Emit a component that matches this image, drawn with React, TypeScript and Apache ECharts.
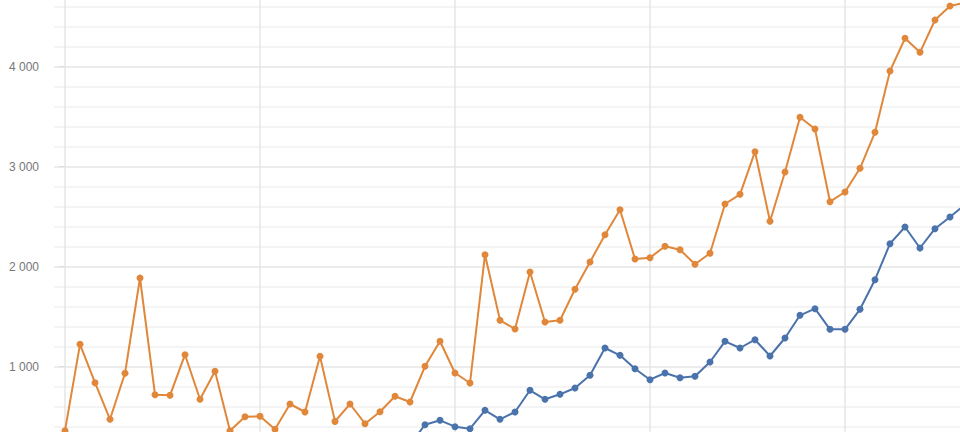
import React, { useEffect, useRef } from "react";
import * as echarts from "echarts";

// Orange series: one value per period, index 0 .. 60
const orangeValues = [
  360, 1224, 840, 474, 934, 1887, 720, 714, 1120, 674, 954, 360, 500, 504, 374, 627, 547, 1105,
  453, 627, 430, 550, 704, 647, 1004, 1254, 937, 837, 2120, 1464, 1377, 1947, 1447, 1464, 1774,
  2047, 2320, 2570, 2077, 2090, 2204, 2170, 2024, 2134, 2627, 2724, 3150, 2455, 2947, 3494, 3377,
  2650, 2747, 2984, 3344, 3957, 4284, 4144, 4467, 4607, 4640,
];

// Blue series starts later
const blueStartIndex = 23;
const blueValues = [
  220, 420, 464, 400, 380, 564, 474, 547, 764, 674, 724, 787, 914, 1187, 1114, 980, 870, 937,
  890, 904, 1047, 1254, 1187, 1270, 1107, 1287, 1514, 1580, 1374, 1374, 1574, 1870, 2230, 2397,
  2187, 2380, 2497, 2620,
];

// Vertical reference grid lines (period indices)
const periodBreaks = [0, 13, 26, 39, 52];

// Y tick labels shown
const yTickLabels = [1000, 2000, 3000, 4000];

const ORANGE = "#E0873A";
const BLUE = "#4A72AB";

function fmt(v: number): string {
  return String(v).replace(/\B(?=(\d{3})+(?!\d))/g, " ");
}

export default function App() {
  const ref = useRef<HTMLDivElement>(null);

  useEffect(() => {
    if (!ref.current) return;
    const chart = echarts.init(ref.current, undefined, { renderer: "svg" });
    const xMin = -11 / 15;
    const xMax = xMin + 946 / 15;
    chart.setOption({
      animation: false,
      backgroundColor: "#ffffff",
      grid: { left: 54, right: 0, top: 66.7, bottom: 83.3 },
      xAxis: {
        type: "value",
        min: xMin,
        max: xMax,
        axisLine: { show: false },
        axisTick: { show: false },
        axisLabel: { show: false },
        splitLine: { show: false },
      },
      yAxis: {
        type: "value",
        min: 0,
        max: 5000,
        interval: 1000,
        axisLine: { show: false },
        axisTick: { show: true, length: 6, lineStyle: { color: "#dcdcdc" } },
        axisLabel: {
          margin: 15,
          color: "#777777",
          fontSize: 12,
          fontFamily: "Liberation Sans, Arial, sans-serif",
          formatter: (v: number) => (yTickLabels.includes(v) ? fmt(v) : ""),
        },
        splitLine: { show: true, lineStyle: { color: "#e6e6e6", width: 1.5 } },
        minorTick: { show: false, splitNumber: 5 },
        minorSplitLine: { show: true, lineStyle: { color: "#f0f0f0", width: 1.5 } },
      },
      series: [
        {
          name: "Orange",
          type: "line",
          data: orangeValues.map((v, i) => [i, v]),
          symbol: "circle",
          symbolSize: 7,
          lineStyle: { color: ORANGE, width: 2 },
          itemStyle: { color: ORANGE },
          z: 3,
          markLine: {
            silent: true,
            symbol: "none",
            z: 1,
            label: { show: false },
            lineStyle: { color: "#e6e6e6", width: 1.5, type: "solid" },
            data: periodBreaks.map((b) => ({ xAxis: b })),
          },
        },
        {
          name: "Blue",
          type: "line",
          data: blueValues.map((v, i) => [i + blueStartIndex, v]),
          symbol: "circle",
          symbolSize: 7,
          lineStyle: { color: BLUE, width: 2 },
          itemStyle: { color: BLUE },
          z: 3,
        },
      ],
    });
    return () => chart.dispose();
  }, []);

  return (
    <div
      style={{
        position: "fixed",
        left: 0,
        top: 0,
        width: 960,
        height: 432,
        overflow: "hidden",
        background: "#fff",
      }}
    >
      <div
        ref={ref}
        style={{ position: "absolute", left: 0, top: -100, width: 1000, height: 650 }}
      />
    </div>
  );
}
